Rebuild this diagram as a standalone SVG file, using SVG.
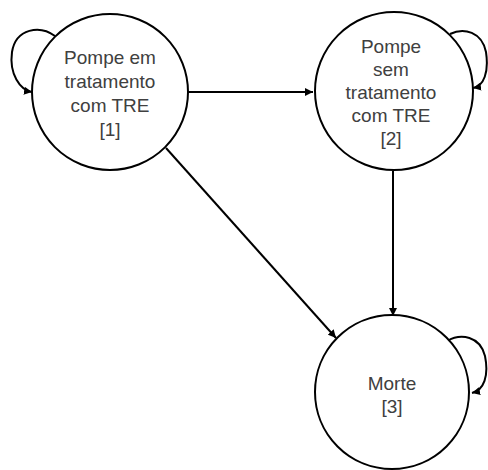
<svg xmlns="http://www.w3.org/2000/svg" width="488" height="470" viewBox="0 0 488 470">
<style>
.node{fill:#fff;stroke:#000;stroke-width:2}
.lbl{font-family:"Liberation Sans",Arial,sans-serif;font-size:19px;fill:#404040;text-anchor:middle}
.edge{fill:none;stroke:#000;stroke-width:2}
</style>
<defs>
<marker id="arr" viewBox="0 0 10 10" refX="10" refY="5" markerWidth="4" markerHeight="4" orient="auto" markerUnits="strokeWidth">
<path d="M0,0 L10,5 L0,10 z" fill="#000"/>
</marker>
</defs>
<g id="connectors">
<path class="edge" marker-end="url(#arr)" d="M188,92 L313,92"/>
<path class="edge" marker-end="url(#arr)" d="M166,148 L336,338"/>
<path class="edge" marker-end="url(#arr)" d="M393,171 L393,316"/>
<path class="edge" marker-end="url(#arr)" d="M55,36 C40,25 16,28 12,52 C9,74 20,90 32,92"/>
<path class="edge" marker-end="url(#arr)" d="M450,34 C464,27 482,32 486,52 C489,72 484,86 473,88"/>
<path class="edge" marker-end="url(#arr)" d="M447,341 C461,333 480,336 485,356 C489,376 484,390 472,393"/>
</g>
<g id="node1">
<circle class="node" cx="110" cy="92" r="78"/>
<text class="lbl" x="110" y="64">Pompe em</text>
<text class="lbl" x="110" y="88">tratamento</text>
<text class="lbl" x="110" y="112">com TRE</text>
<text class="lbl" x="110" y="136">[1]</text>
</g>
<g id="node2">
<circle class="node" cx="394" cy="91" r="79"/>
<text class="lbl" x="391" y="53">Pompe</text>
<text class="lbl" x="391" y="76">sem</text>
<text class="lbl" x="391" y="99">tratamento</text>
<text class="lbl" x="391" y="122">com TRE</text>
<text class="lbl" x="391" y="145">[2]</text>
</g>
<g id="node3">
<circle class="node" cx="392" cy="392" r="77"/>
<text class="lbl" x="392" y="390">Morte</text>
<text class="lbl" x="392" y="413">[3]</text>
</g>
</svg>
